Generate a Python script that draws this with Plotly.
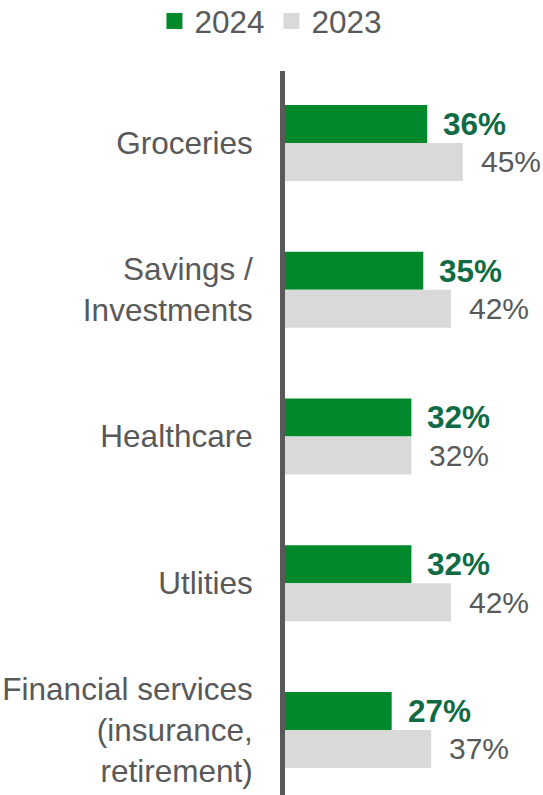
import plotly.graph_objects as go

# Spending categories (top to bottom) and share of respondents per year
categories = [
    "Groceries",
    "Savings /<br>Investments",
    "Healthcare",
    "Utlities",
    "Financial services<br>(insurance,<br>retirement)",
]
values_2024 = [36, 35, 32, 32, 27]
values_2023 = [45, 42, 32, 42, 37]
series_names = ["2024", "2023"]

GREEN = "#00892B"
GREEN_TEXT = "#106B45"
GREY = "#D9D9D9"
TEXT_GREY = "#595959"
FONT = "Liberation Sans, Arial, sans-serif"
FS = 31.5

fig = go.Figure()

fig.add_trace(go.Bar(
    x=values_2024, y=categories, orientation="h", name=series_names[0],
    marker=dict(color=GREEN, line=dict(width=0)), showlegend=False, hoverinfo="skip",
))
fig.add_trace(go.Bar(
    x=values_2023, y=categories, orientation="h", name=series_names[1],
    marker=dict(color=GREY, line=dict(width=0)), showlegend=False, hoverinfo="skip",
))

# Square legend markers
for name, color in zip(series_names, [GREEN, GREY]):
    fig.add_trace(go.Scatter(
        x=[None], y=[None], mode="markers", name=name,
        marker=dict(symbol="square", size=16, color=color),
        showlegend=True,
    ))

# Value labels placed just past each bar end
half = 0.1295
annotations = []
for i, (v24, v23) in enumerate(zip(values_2024, values_2023)):
    annotations.append(dict(
        x=v24, y=i - half, xref="x", yref="y", text=f"<b>{v24}%</b>",
        showarrow=False, xanchor="left", yanchor="middle", xshift=14,
        font=dict(family=FONT, size=FS, color=GREEN_TEXT),
    ))
    annotations.append(dict(
        x=v23, y=i + half, xref="x", yref="y", text=f"{v23}%",
        showarrow=False, xanchor="left", yanchor="middle", xshift=16,
        font=dict(family=FONT, size=30, color=TEXT_GREY),
    ))

fig.update_layout(
    width=543, height=795,
    margin=dict(l=285, r=0, t=71, b=0, autoexpand=False),
    paper_bgcolor="white", plot_bgcolor="white",
    barmode="group", bargap=0.482, bargroupgap=0,
    font=dict(family=FONT, size=FS, color=TEXT_GREY),
    showlegend=True,
    legend=dict(
        orientation="h", x=-0.506, xanchor="left", y=1.1063, yanchor="top",
        font=dict(family=FONT, size=FS, color=TEXT_GREY),
        itemclick=False, itemdoubleclick=False, bgcolor="rgba(0,0,0,0)",
        traceorder="normal", entrywidth=72,
    ),
    annotations=annotations,
    xaxis=dict(range=[0, 65.3], visible=False, fixedrange=True),
    yaxis=dict(
        range=[4.443, -0.49], showline=True, linewidth=5, linecolor=TEXT_GREY,
        showgrid=False, zeroline=False, ticks="", ticklabelstandoff=21,
        tickfont=dict(family=FONT, size=FS, color=TEXT_GREY), fixedrange=True,
    ),
)

fig.write_html("out.html")
